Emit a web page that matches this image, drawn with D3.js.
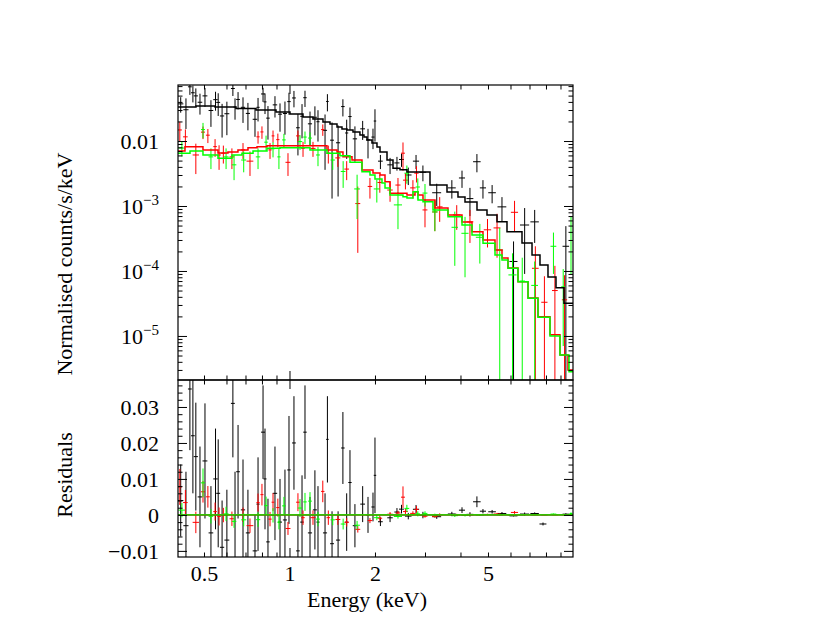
<!DOCTYPE html>
<html><head><meta charset="utf-8">
<script src="https://cdn.jsdelivr.net/npm/d3@7"></script>
<style>body{margin:0;background:#fff}svg{display:block}</style>
</head><body><svg id="c" width="830" height="642"></svg>
<script>
// ---------- axis domains and tick labels ----------
const xDomain = [0.405, 9.96];
const yTopDomain = [2.1e-6, 0.0728];
const yResDomain = [-0.0117, 0.0375];
const xTickMinor = [0.5,0.6,0.7,0.8,0.9,2,3,4,5,6,7,8,9];
const xTickMajor = [1];
const xTickLabels = [0.5, 1, 2, 5];
const yTopMajor = [1e-5, 1e-4, 1e-3, 1e-2];
const yTopLabels = [1e-5, 1e-4, 1e-3, 1e-2];
const yResMajor = [-0.01, 0, 0.01, 0.02, 0.03];
const yResLabels = [-0.01, 0, 0.01, 0.02, 0.03];

// ---------- data: black (group 1) ----------
const blackE = [0.414,0.432,0.446,0.457,0.468,0.484,0.504,0.529,0.549,0.561,0.579,0.602,0.632,0.643,0.659,0.686,0.714,0.756,0.775,0.807,0.820,0.840,0.889,0.926,0.964,0.996,1.037,1.071,1.107,1.134,1.181,1.229,1.260,1.334,1.360,1.412,1.483,1.542,1.590,1.633,1.700,1.810,1.890,1.968,2.000,2.090,2.260,2.390,2.480,2.620,2.790,2.950,3.300,3.730,4.050,4.320,4.570,4.800,5.170,5.600,6.150,6.730,7.300,7.810,9.400];
const blackDE = [0.009,0.009,0.007,0.007,0.008,0.009,0.01,0.01,0.01,0.009,0.01,0.012,0.01,0.008,0.01,0.012,0.012,0.014,0.01,0.013,0.01,0.012,0.016,0.015,0.016,0.014,0.016,0.016,0.016,0.016,0.02,0.02,0.016,0.022,0.014,0.022,0.025,0.022,0.02,0.022,0.03,0.035,0.03,0.025,0.02,0.04,0.05,0.05,0.05,0.07,0.07,0.08,0.12,0.12,0.1,0.12,0.14,0.12,0.16,0.2,0.2,0.25,0.25,0.22,0.25];
const blackV = [0.0373,0.0303,0.0683,0.0553,0.0495,0.0395,0.0495,0.0295,0.0433,0.0393,0.0243,0.0263,0.0643,0.0333,0.0436,0.0330,0.0266,0.0216,0.0330,0.0530,0.0400,0.0225,0.0360,0.0259,0.0265,0.0404,0.0460,0.0160,0.0240,0.0464,0.0184,0.0232,0.0198,0.0146,0.0406,0.0103,0.0094,0.0339,0.0133,0.0238,0.0108,0.0154,0.0104,0.0115,0.0203,0.0049,0.0043,0.0046,0.0052,0.0030,0.0049,0.0033,0.0016,0.0019,0.0027,0.0013,0.0048,0.0019,0.0016,0.00097,0.00014,0.00051,0.00057,-0.0024,0.00024];
const blackErr = [0.010,0.015,0.017,0.016,0.015,0.014,0.016,0.013,0.014,0.015,0.013,0.014,0.015,0.012,0.013,0.014,0.012,0.010,0.013,0.013,0.014,0.012,0.013,0.012,0.014,0.015,0.013,0.010,0.013,0.013,0.010,0.011,0.010,0.011,0.012,0.009,0.008,0.010,0.008,0.009,0.006,0.005,0.005,0.004,0.0105,0.0012,0.0012,0.0011,0.0012,0.0009,0.0012,0.0009,0.0006,0.0006,0.0008,0.0006,0.0015,0.0006,0.0005,0.0004,0.000145,0.00042,0.0003,0.0004,0.00025];
const blackModelE = [0.405,0.4686,0.5467,0.6478,0.7622,0.8965,1.004,1.1156,1.2097,1.312,1.3888,1.470,1.5306,1.5939,1.6735,1.7704,1.8293,1.8745,1.952,2.0327,2.083,2.2047,2.3147,2.4497,2.5925,3.1242,3.586,3.92,4.1495,4.573,4.9595,5.3783,5.8324,6.5869,7.1442,7.6211,8.132,8.677,9.256,9.959];
const blackModelV = [0.0333,0.0345,0.0333,0.0316,0.0300,0.0279,0.0260,0.0234,0.0218,0.0196,0.0183,0.0164,0.0153,0.0148,0.0138,0.0124,0.0115,0.0104,0.0093,0.0081,0.0068,0.0051,0.0038,0.0036,0.00334,0.0021,0.00164,0.00138,0.00115,0.00087,0.00073,0.00057,0.00040,0.00027,0.000176,0.000124,0.000081,0.000055,0.000032];

// ---------- data: red (group 2) ----------
const redE = [0.411,0.430,0.468,0.496,0.516,0.547,0.565,0.585,0.627,0.686,0.726,0.775,0.800,0.854,0.875,0.910,0.988,1.071,1.116,1.210,1.310,1.370,1.480,1.590,1.740,1.920,2.080,2.260,2.410,2.510,2.560,2.720,2.800,3.000,3.250,3.380,3.880,4.320,4.980,5.380,6.200,7.340,7.900,8.600,9.300];
const redDE = [0.007,0.008,0.012,0.008,0.008,0.008,0.008,0.010,0.012,0.012,0.020,0.010,0.010,0.012,0.010,0.012,0.020,0.016,0.016,0.025,0.018,0.020,0.030,0.030,0.035,0.035,0.04,0.05,0.05,0.04,0.05,0.06,0.05,0.06,0.07,0.08,0.12,0.12,0.15,0.15,0.18,0.2,0.2,0.2,0.2];
const redV = [0.0148,0.0116,0.0061,0.0137,0.0123,0.0082,0.0061,0.0065,0.0057,0.0073,0.0049,0.0116,0.0138,0.0073,0.0120,0.0105,0.0047,0.0120,0.0077,0.0077,0.0150,0.0065,0.0055,0.0037,0.00109,0.0020,0.0023,0.00176,0.0021,0.0065,0.0025,0.0019,0.0032,0.00087,0.00081,0.00097,0.00073,0.00057,0.00043,0.00046,0.00080,0.00011,0.000033,0.00005,0.000036];
const redErr = [0.005,0.0035,0.003,0.003,0.003,0.0025,0.0025,0.002,0.002,0.002,0.002,0.0025,0.003,0.002,0.0025,0.0025,0.0018,0.0025,0.002,0.002,0.003,0.002,0.0015,0.0012,0.0009,0.0007,0.0007,0.0006,0.0006,0.003,0.0007,0.0006,0.0009,0.0004,0.0004,0.0004,0.0003,0.0003,0.0002,0.0003,0.0004,0.00013,0.00005,0.00007,0.00005];
const redModelE = [0.405,0.4286,0.4959,0.5601,0.6073,0.6585,0.7143,0.7686,0.8334,1.3552,1.470,1.543,1.6601,1.80,1.9679,2.083,2.1693,2.2591,2.5925,2.7664,2.8347,2.9521,3.2536,3.615,4.0495,4.3912,4.801,5.2921,5.6007,5.88,6.3766,6.9163,7.4989,8.266,8.962,9.563,9.959];
const redModelV = [0.00702,0.00817,0.00727,0.00654,0.00677,0.00727,0.00789,0.00817,0.00847,0.00727,0.00677,0.00574,0.0051,0.00358,0.00322,0.0030,0.00236,0.00157,0.00148,0.00166,0.00148,0.00124,0.000931,0.000727,0.000567,0.000402,0.00030,0.00021,0.000158,0.000111,0.0000684,0.0000384,0.0000198,0.0000104,0.0000051,0.0000030];

// ---------- data: green (group 3) ----------
const greenE = [0.418,0.496,0.529,0.598,0.638,0.690,0.775,0.827,0.875,0.918,0.956,1.089,1.134,1.181,1.260,1.420,1.545,1.730,2.030,2.410,2.590,2.830,3.000,3.250,3.820,4.150,4.680,5.500,6.100,6.600,7.300,8.500,9.200,9.800];
const greenDE = [0.012,0.008,0.010,0.012,0.012,0.014,0.014,0.012,0.012,0.012,0.014,0.02,0.016,0.018,0.02,0.025,0.03,0.04,0.05,0.08,0.05,0.05,0.06,0.07,0.10,0.12,0.15,0.15,0.2,0.15,0.2,0.2,0.15,0.12];
const greenV = [0.0078,0.0150,0.0057,0.0057,0.0043,0.0051,0.0057,0.0096,0.0076,0.0057,0.0104,0.0098,0.0115,0.0111,0.0061,0.0051,0.0034,0.00183,0.00183,0.00104,0.0032,0.00196,0.00158,0.00081,0.00047,0.00038,0.00033,0.00021,0.000087,0.00007,0.00006,0.00024,0.000057,0.00039];
const greenErr = [0.002,0.004,0.002,0.002,0.0018,0.0018,0.002,0.0025,0.002,0.002,0.0025,0.0025,0.0025,0.0025,0.002,0.0015,0.0015,0.0012,0.0007,0.0006,0.001,0.0007,0.0006,0.0004,0.00035,0.0003,0.0002,0.00025,0.0001,0.00009,0.00008,0.00015,0.00005,0.0003];
const greenModelE = [0.405,0.4464,0.4959,0.5601,0.6271,0.6802,0.744,0.8334,0.9258,1.1808,1.3552,1.5058,1.6331,1.80,1.9208,2.0,2.117,2.1693,2.2591,2.5098,2.5925,2.7221,2.8347,2.9521,3.2012,3.615,4.0495,4.3912,4.801,5.2921,5.6007,5.88,6.3766,6.9163,7.4989,8.266,8.962,9.644,9.959];
const greenModelV = [0.00647,0.00702,0.00609,0.00542,0.00609,0.00647,0.00702,0.00772,0.00789,0.00727,0.00647,0.00594,0.0047,0.00337,0.0030,0.0026,0.00226,0.00189,0.00148,0.00139,0.00133,0.00166,0.00124,0.00116,0.000868,0.000684,0.00051,0.000358,0.000267,0.000176,0.000148,0.00011,0.0000684,0.000038,0.0000194,0.00001,0.0000051,0.00000282];

// ---------- layout ----------
const W = 830, H = 642;
const L = 178, R = 573, T = 85, M = 380, B = 557;
const svg = d3.select('#c');
svg.append('rect').attr('width', W).attr('height', H).attr('fill', '#fff');

const x = d3.scaleLog().domain(xDomain).range([L, R]);
const yTop = d3.scaleLog().domain(yTopDomain).range([M, T]);
const yRes = d3.scaleLinear().domain(yResDomain).range([B, M]);

const defs = svg.append('defs');
defs.append('clipPath').attr('id', 'clipTop').append('rect').attr('x', L).attr('y', T).attr('width', R - L).attr('height', M - T);
defs.append('clipPath').attr('id', 'clipRes').append('rect').attr('x', L).attr('y', M).attr('width', R - L).attr('height', B - M);

const groups = [
  {E: blackE, dE: blackDE, V: blackV, err: blackErr, mE: blackModelE, mV: blackModelV, color: '#000000'},
  {E: redE, dE: redDE, V: redV, err: redErr, mE: redModelE, mV: redModelV, color: '#ff0000'},
  {E: greenE, dE: greenDE, V: greenV, err: greenErr, mE: greenModelE, mV: greenModelV, color: '#00ff00'}
];

function modelAt(g, e) {
  let i = d3.bisectRight(g.mE, e) - 1;
  i = Math.max(0, Math.min(g.mV.length - 1, i));
  return g.mV[i];
}

const gTop = svg.append('g').attr('clip-path', 'url(#clipTop)');
const gRes = svg.append('g').attr('clip-path', 'url(#clipRes)');

// data crosses (top: counts; bottom: data minus model)
groups.forEach(g => {
  const pts = g.E.map((e, i) => ({e, de: g.dE[i], v: g.V[i], err: g.err[i], r: g.V[i] - modelAt(g, e)}));
  const gt = gTop.append('g').attr('stroke', g.color).attr('stroke-width', 1).attr('fill', 'none');
  pts.forEach(p => {
    if (p.v > 0) {
      gt.append('line').attr('x1', x(p.e - p.de)).attr('x2', x(p.e + p.de))
        .attr('y1', yTop(p.v)).attr('y2', yTop(p.v));
    }
    const hi = p.v + p.err, lo = p.v - p.err;
    if (hi > 0) {
      gt.append('line').attr('x1', x(p.e)).attr('x2', x(p.e))
        .attr('y1', yTop(hi)).attr('y2', lo > 0 ? yTop(lo) : M + 20);
    }
  });
  const gr = gRes.append('g').attr('stroke', g.color).attr('stroke-width', 1).attr('fill', 'none');
  pts.forEach(p => {
    gr.append('line').attr('x1', x(p.e - p.de)).attr('x2', x(p.e + p.de))
      .attr('y1', yRes(p.r)).attr('y2', yRes(p.r));
    gr.append('line').attr('x1', x(p.e)).attr('x2', x(p.e))
      .attr('y1', yRes(p.r + p.err)).attr('y2', yRes(p.r - p.err));
  });
});

// model step lines and zero lines
groups.forEach(g => {
  const pts = g.mV.map((v, i) => [g.mE[i], v]);
  pts.push([g.mE[g.mE.length - 1], g.mV[g.mV.length - 1]]);
  const line = d3.line().x(d => x(d[0])).y(d => yTop(d[1])).curve(d3.curveStepAfter);
  gTop.append('path').attr('d', line(pts)).attr('fill', 'none')
    .attr('stroke', g.color).attr('stroke-width', 1.5);
  gRes.append('line').attr('x1', L).attr('x2', R).attr('y1', yRes(0)).attr('y2', yRes(0))
    .attr('stroke', g.color).attr('stroke-width', 1.3);
});

// frames
svg.append('rect').attr('x', L).attr('y', T).attr('width', R - L).attr('height', M - T)
  .attr('fill', 'none').attr('stroke', '#000').attr('stroke-width', 1.2);
svg.append('rect').attr('x', L).attr('y', M).attr('width', R - L).attr('height', B - M)
  .attr('fill', 'none').attr('stroke', '#000').attr('stroke-width', 1.2);

// ticks
function ticks(axisFn, scale, values, size, tx, ty) {
  const a = axisFn(scale).tickValues(values).tickSize(size).tickFormat('');
  const g = svg.append('g').attr('transform', `translate(${tx},${ty})`).call(a);
  g.select('.domain').remove();
  g.selectAll('line').attr('stroke', '#000').attr('stroke-width', 1);
}
const MAJ = 9, MIN = 4.5;
[[d3.axisBottom, T], [d3.axisTop, M], [d3.axisBottom, M], [d3.axisTop, B]].forEach(([fn, yy]) => {
  ticks(fn, x, xTickMinor, MIN, 0, yy);
  ticks(fn, x, xTickMajor, MAJ, 0, yy);
});
const yTopMinor = yTop.ticks().filter(v => !yTopMajor.some(m => Math.abs(m - v) / m < 1e-6));
ticks(d3.axisRight, yTop, yTopMajor, MAJ, L, 0);
ticks(d3.axisRight, yTop, yTopMinor, MIN, L, 0);
ticks(d3.axisLeft, yTop, yTopMajor, MAJ, R, 0);
ticks(d3.axisLeft, yTop, yTopMinor, MIN, R, 0);
const yResMinor = yRes.ticks(25).filter(v => !yResMajor.some(m => Math.abs(m - v) < 1e-9));
ticks(d3.axisRight, yRes, yResMajor, MAJ, L, 0);
ticks(d3.axisRight, yRes, yResMinor, MIN, L, 0);
ticks(d3.axisLeft, yRes, yResMajor, MAJ, R, 0);
ticks(d3.axisLeft, yRes, yResMinor, MIN, R, 0);

// tick labels
const FS = 22;
const SERIF = 'Liberation Serif';
function styleText(sel) {
  sel.attr('font-family', SERIF).attr('font-size', FS).attr('fill', '#000');
}
const gxl = svg.append('g').attr('transform', `translate(0,${B})`)
  .call(d3.axisBottom(x).tickValues(xTickLabels).tickSize(0).tickFormat(d => String(d)));
gxl.select('.domain').remove();
gxl.attr('font-family', SERIF).attr('font-size', FS);
gxl.selectAll('text').attr('y', 24).attr('dy', 0).call(styleText);

const gyl = svg.append('g').attr('transform', `translate(159,0)`)
  .call(d3.axisLeft(yTop).tickValues(yTopLabels).tickSize(0).tickPadding(0).tickFormat(''));
gyl.select('.domain').remove();
gyl.attr('font-family', SERIF).attr('font-size', FS);
gyl.selectAll('text').call(styleText).attr('dy', '0.33em')
  .each(function(d) {
    const t = d3.select(this);
    if (d >= 0.01) { t.text('0.01'); return; }
    const ex = Math.round(Math.log10(d));
    t.text(null);
    t.append('tspan').text('10');
    t.append('tspan').attr('font-size', 15).attr('dy', -9).text('\u2212' + Math.abs(ex));
  });

const grl = svg.append('g').attr('transform', `translate(159,0)`)
  .call(d3.axisLeft(yRes).tickValues(yResLabels).tickSize(0).tickPadding(0)
    .tickFormat(d => d === 0 ? '0' : (d < 0 ? '\u2212' : '') + Math.abs(d).toFixed(2)));
grl.select('.domain').remove();
grl.attr('font-family', SERIF).attr('font-size', FS);
grl.selectAll('text').call(styleText).attr('dy', '0.33em');

// axis titles
svg.append('text').attr('transform', 'translate(72,264) rotate(-90)').attr('text-anchor', 'middle')
  .call(styleText).text('Normalised counts/s/keV');
svg.append('text').attr('transform', 'translate(72,475) rotate(-90)').attr('text-anchor', 'middle')
  .call(styleText).text('Residuals');
svg.append('text').attr('x', 367).attr('y', 607).attr('text-anchor', 'middle')
  .call(styleText).text('Energy (keV)');
</script></body></html>
